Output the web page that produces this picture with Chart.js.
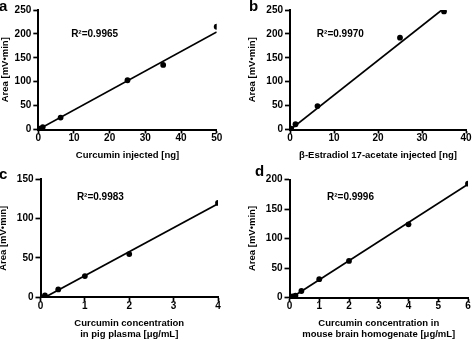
<!DOCTYPE html>
<html>
<head>
<meta charset="utf-8">
<script src="https://cdn.jsdelivr.net/npm/chart.js@4.4.1/dist/chart.umd.min.js"></script>
<style>
  html, body { margin: 0; padding: 0; background: #fff; }
  #fig { position: relative; width: 474px; height: 340px; overflow: hidden; }
  #fig canvas { position: absolute; }
  .lbl { position: absolute; font: bold 15px 'Liberation Sans', Arial, sans-serif; line-height: 15px; color: #000; }
</style>
</head>
<body>
<div id="fig">
  <canvas id="chartA" width="237" height="170" style="left:0;top:0"></canvas>
  <canvas id="chartB" width="237" height="170" style="left:237px;top:0"></canvas>
  <canvas id="chartC" width="237" height="170" style="left:0;top:170px"></canvas>
  <canvas id="chartD" width="237" height="170" style="left:237px;top:170px"></canvas>
  <div class="lbl" style="left:-1px;top:-2px">a</div>
  <div class="lbl" style="left:249px;top:-2px">b</div>
  <div class="lbl" style="left:-1px;top:165.5px">c</div>
  <div class="lbl" style="left:255px;top:163px">d</div>
</div>
<script>
const FONT = "'Liberation Sans', Arial, sans-serif"

// a - curcumin standard
const concA = [0.25, 1.25, 6.25, 25, 35, 50]
const areaA = [2, 5, 25, 103, 135, 215]
const fitXA = [0, 50]
const fitYA = [0, 204]

// b - beta-estradiol 17-acetate
const concB = [0.25, 1.25, 6.25, 25, 35]
const areaB = [2, 11, 49, 192, 247]
const fitXB = [0.1, 34.5]
const fitYB = [0, 250]

// c - pig plasma
const concC = [0.1, 0.4, 1, 2, 4]
const areaC = [2.5, 10, 27, 55, 120]
const fitXC = [0.1, 4]
const fitYC = [0, 119]

// d - mouse brain homogenate
const concD = [0.1, 0.2, 0.4, 1, 2, 4, 6]
const areaD = [2, 3, 11, 31, 62, 124, 193]
const fitXD = [0.1, 6]
const fitYD = [1, 192]

const r2Text = ['R²=0.9965', 'R²=0.9970', 'R²=0.9983', 'R²=0.9996']
const xTitles = [
  'Curcumin injected [ng]',
  'β-Estradiol 17-acetate injected [ng]',
  ['Curcumin concentration', 'in pig plasma [μg/mL]'],
  ['Curcumin concentration in', 'mouse brain homogenate [μg/mL]'],
]
const yTitle = 'Area [mV•min]'

const r2Plugin = {
  id: 'r2',
  afterDraw(chart, args, opts) {
    const { ctx, scales } = chart
    ctx.save()
    ctx.font = `bold 10px ${FONT}`
    ctx.fillStyle = '#000'
    ctx.textAlign = 'left'
    ctx.textBaseline = 'middle'
    ctx.fillText(opts.text, scales.x.getPixelForValue(opts.x), scales.y.getPixelForValue(opts.y))
    ctx.restore()
  }
}

function pts(xs, ys) {
  return xs.map((v, i) => ({ x: v, y: ys[i] }))
}

function makePanel(id, p) {
  const tickFont = { size: 10, weight: 'bold', family: FONT, lineHeight: 1 }
  return new Chart(document.getElementById(id), {
    type: 'scatter',
    data: {
      datasets: [
        {
          data: pts(p.fitX, p.fitY),
          showLine: true,
          borderColor: '#000',
          borderWidth: 1.7,
          pointRadius: 0,
          order: 2,
        },
        {
          data: pts(p.conc, p.area),
          backgroundColor: '#000',
          borderColor: '#000',
          borderWidth: 0,
          pointRadius: 2.9,
          order: 1,
        },
      ]
    },
    options: {
      responsive: false,
      animation: false,
      devicePixelRatio: 1,
      layout: { padding: p.pad },
      plugins: {
        legend: { display: false },
        tooltip: { enabled: false },
        r2: { text: p.r2, x: p.r2x, y: p.r2y },
      },
      scales: {
        x: {
          type: 'linear',
          min: 0,
          max: p.xMax,
          afterFit: s => { s.height = p.xH },
          border: { color: '#000', width: 2 },
          grid: { display: true, drawOnChartArea: false, drawTicks: true, tickLength: 4, tickColor: '#000', tickWidth: 1.7 },
          ticks: { stepSize: p.xStep, color: '#000', font: tickFont, padding: 0, maxRotation: 0, autoSkip: false },
          title: {
            display: true,
            text: p.xTitle,
            color: '#000',
            font: { size: 9.5, weight: 'bold', family: FONT, lineHeight: p.xLH },
            padding: 0,
          },
        },
        y: {
          type: 'linear',
          min: 0,
          max: p.yMax,
          afterFit: s => { s.width = p.yW },
          border: { color: '#000', width: 2 },
          grid: { display: true, drawOnChartArea: false, drawTicks: true, tickLength: 5, tickColor: '#000', tickWidth: 1.7 },
          ticks: { stepSize: 50, color: '#000', font: tickFont, padding: 2, autoSkip: false },
          title: {
            display: true,
            text: yTitle,
            color: '#000',
            font: { size: 9.5, weight: 'bold', family: FONT, lineHeight: 1.2 },
            padding: { top: p.yTitleOff, bottom: 0 },
          },
        },
      }
    },
    plugins: [r2Plugin]
  })
}

makePanel('chartA', {
  conc: concA, area: areaA, fitX: fitXA, fitY: fitYA,
  xMax: 50, xStep: 10, yMax: 250,
  xTitle: xTitles[0], xLH: 1.2,
  r2: r2Text[0], r2x: 9.2, r2y: 199,
  pad: { left: 0, right: 20.3, top: 10, bottom: 9 },
  yW: 38.3, xH: 31.5, yTitleOff: 0,
})

makePanel('chartB', {
  conc: concB, area: areaB, fitX: fitXB, fitY: fitYB,
  xMax: 40, xStep: 10, yMax: 250,
  xTitle: xTitles[1], xLH: 1.2,
  r2: r2Text[1], r2x: 6.1, r2y: 200,
  pad: { left: 9.5, right: 8, top: 10, bottom: 9 },
  yW: 43.5, xH: 31.5, yTitleOff: 0,
})

makePanel('chartC', {
  conc: concC, area: areaC, fitX: fitXC, fitY: fitYC,
  xMax: 4, xStep: 1, yMax: 150,
  xTitle: xTitles[2], xLH: 1.126,
  r2: r2Text[2], r2x: 0.82, r2y: 127,
  pad: { left: 0, right: 19, top: 9.3, bottom: 0.65 },
  yW: 40.5, xH: 42.05, yTitleOff: -2.5,
})

makePanel('chartD', {
  conc: concD, area: areaD, fitX: fitXD, fitY: fitYD,
  xMax: 6, xStep: 1, yMax: 200,
  xTitle: xTitles[3], xLH: 1.126,
  r2: r2Text[3], r2x: 1.26, r2y: 170,
  pad: { left: 9.5, right: 6, top: 9.5, bottom: 0.65 },
  yW: 43, xH: 41.85, yTitleOff: 0,
})
</script>
</body>
</html>
